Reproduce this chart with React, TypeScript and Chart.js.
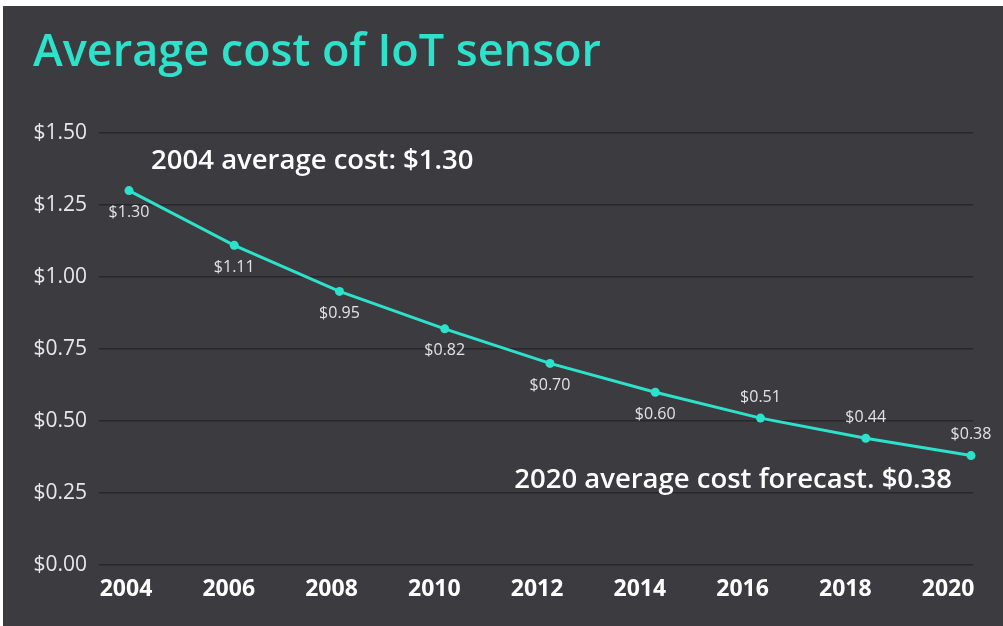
import React, { useEffect, useRef } from "react";
import { Chart, registerables } from "chart.js";

Chart.register(...registerables);

// ---- data ----
const yearLabels = ["2004", "2006", "2008", "2010", "2012", "2014", "2016", "2018", "2020"];
const costValues = [1.3, 1.11, 0.95, 0.82, 0.7, 0.6, 0.51, 0.44, 0.38];
const valueLabelSide = ["below", "below", "below", "below", "below", "below", "above", "above", "above"];
const yTickValues = [0, 0.25, 0.5, 0.75, 1.0, 1.25, 1.5];
const titleText = "Average cost of IoT sensor";
const annotationTexts = ["2004 average cost: $1.30", "2020 average cost forecast. $0.38"];
const annotationXs = [0.21, 3.66];
const annotationYs = [1.403, 0.295];

// ---- styles ----
const BG = "#3c3b40";
const ACCENT = "#2de2cb";
const GRID = "#28272b";
const FONT = "'Open Sans', 'Noto Sans', sans-serif";

const fmt = (v: number) => "$" + v.toFixed(2);

const valueLabelPlugin = {
  id: "valueLabels",
  afterDatasetsDraw(chart: any) {
    const ctx = chart.ctx;
    const meta = chart.getDatasetMeta(0);
    ctx.save();
    ctx.font = `16px ${FONT}`;
    ctx.fillStyle = "#e2e2e2";
    ctx.textAlign = "center";
    ctx.textBaseline = "middle";
    meta.data.forEach((pt: any, i: number) => {
      const dy = valueLabelSide[i] === "above" ? -21 : 22;
      ctx.fillText(fmt(costValues[i]), pt.x, pt.y + dy);
    });
    // annotations
    ctx.font = `600 27.5px ${FONT}`;
    ctx.fillStyle = "#ffffff";
    ctx.textAlign = "left";
    const xs = chart.scales.x;
    const ys = chart.scales.y;
    annotationTexts.forEach((t, i) => {
      ctx.fillText(t, xs.getPixelForValue(annotationXs[i]), ys.getPixelForValue(annotationYs[i]));
    });
    ctx.restore();
  },
};

export default function App() {
  const ref = useRef<HTMLCanvasElement | null>(null);
  useEffect(() => {
    if (!ref.current) return;
    const chart = new Chart(ref.current, {
      type: "line",
      data: {
        datasets: [
          {
            data: costValues.map((v, i) => ({ x: i, y: v })),
            borderColor: ACCENT,
            backgroundColor: ACCENT,
            borderWidth: 3,
            pointRadius: 4.5,
            pointBackgroundColor: ACCENT,
            pointBorderWidth: 0,
            tension: 0,
            clip: false,
            xAxisID: "x",
            yAxisID: "y",
          },
        ],
      },
      options: {
        animation: false,
        responsive: true,
        maintainAspectRatio: false,
        layout: { padding: { left: 30, right: 30, top: 0, bottom: 11.4 } },
        plugins: {
          legend: { display: false },
          tooltip: { enabled: false },
          title: {
            display: true,
            text: titleText,
            align: "start",
            color: ACCENT,
            font: { family: FONT, size: 45, weight: 600 },
            padding: { top: 20, bottom: 53 },
          },
        },
        scales: {
          x: {
            type: "linear",
            display: false,
            min: -0.285,
            max: 8.019,
          },
          xl: {
            type: "linear",
            position: "bottom",
            min: -0.263,
            max: 8.243,
            grid: { display: false, drawTicks: false },
            border: { display: false },
            afterFit: (axis: any) => {
              axis.paddingLeft = 0;
              axis.paddingRight = 0;
            },
            ticks: {
              stepSize: 1,
              includeBounds: false,
              autoSkip: false,
              maxRotation: 0,
              padding: 11,
              color: "#ffffff",
              font: { family: FONT, size: 23, weight: "bold" },
              callback: (v: any) => yearLabels[v] ?? "",
            },
          },
          y: {
            min: 0,
            max: 1.5,
            afterBuildTicks: (axis: any) => {
              axis.ticks = yTickValues.map((v) => ({ value: v }));
            },
            afterFit: (axis: any) => {
              axis.width = 66;
              axis.paddingTop = 0;
              axis.paddingBottom = 0;
            },
            grid: { color: GRID, lineWidth: 1.5, drawTicks: false },
            border: { display: false },
            ticks: {
              padding: 12,
              color: "#e8e8e8",
              font: { family: FONT, size: 21 },
              callback: (v: any) => fmt(Number(v)),
            },
          },
        },
      },
      plugins: [valueLabelPlugin],
    } as any);
    return () => chart.destroy();
  }, []);

  return (
    <div
      style={{
        position: "absolute",
        left: 3,
        top: 6,
        width: 1000,
        height: 620,
        background: BG,
      }}
    >
      <canvas ref={ref} />
    </div>
  );
}
